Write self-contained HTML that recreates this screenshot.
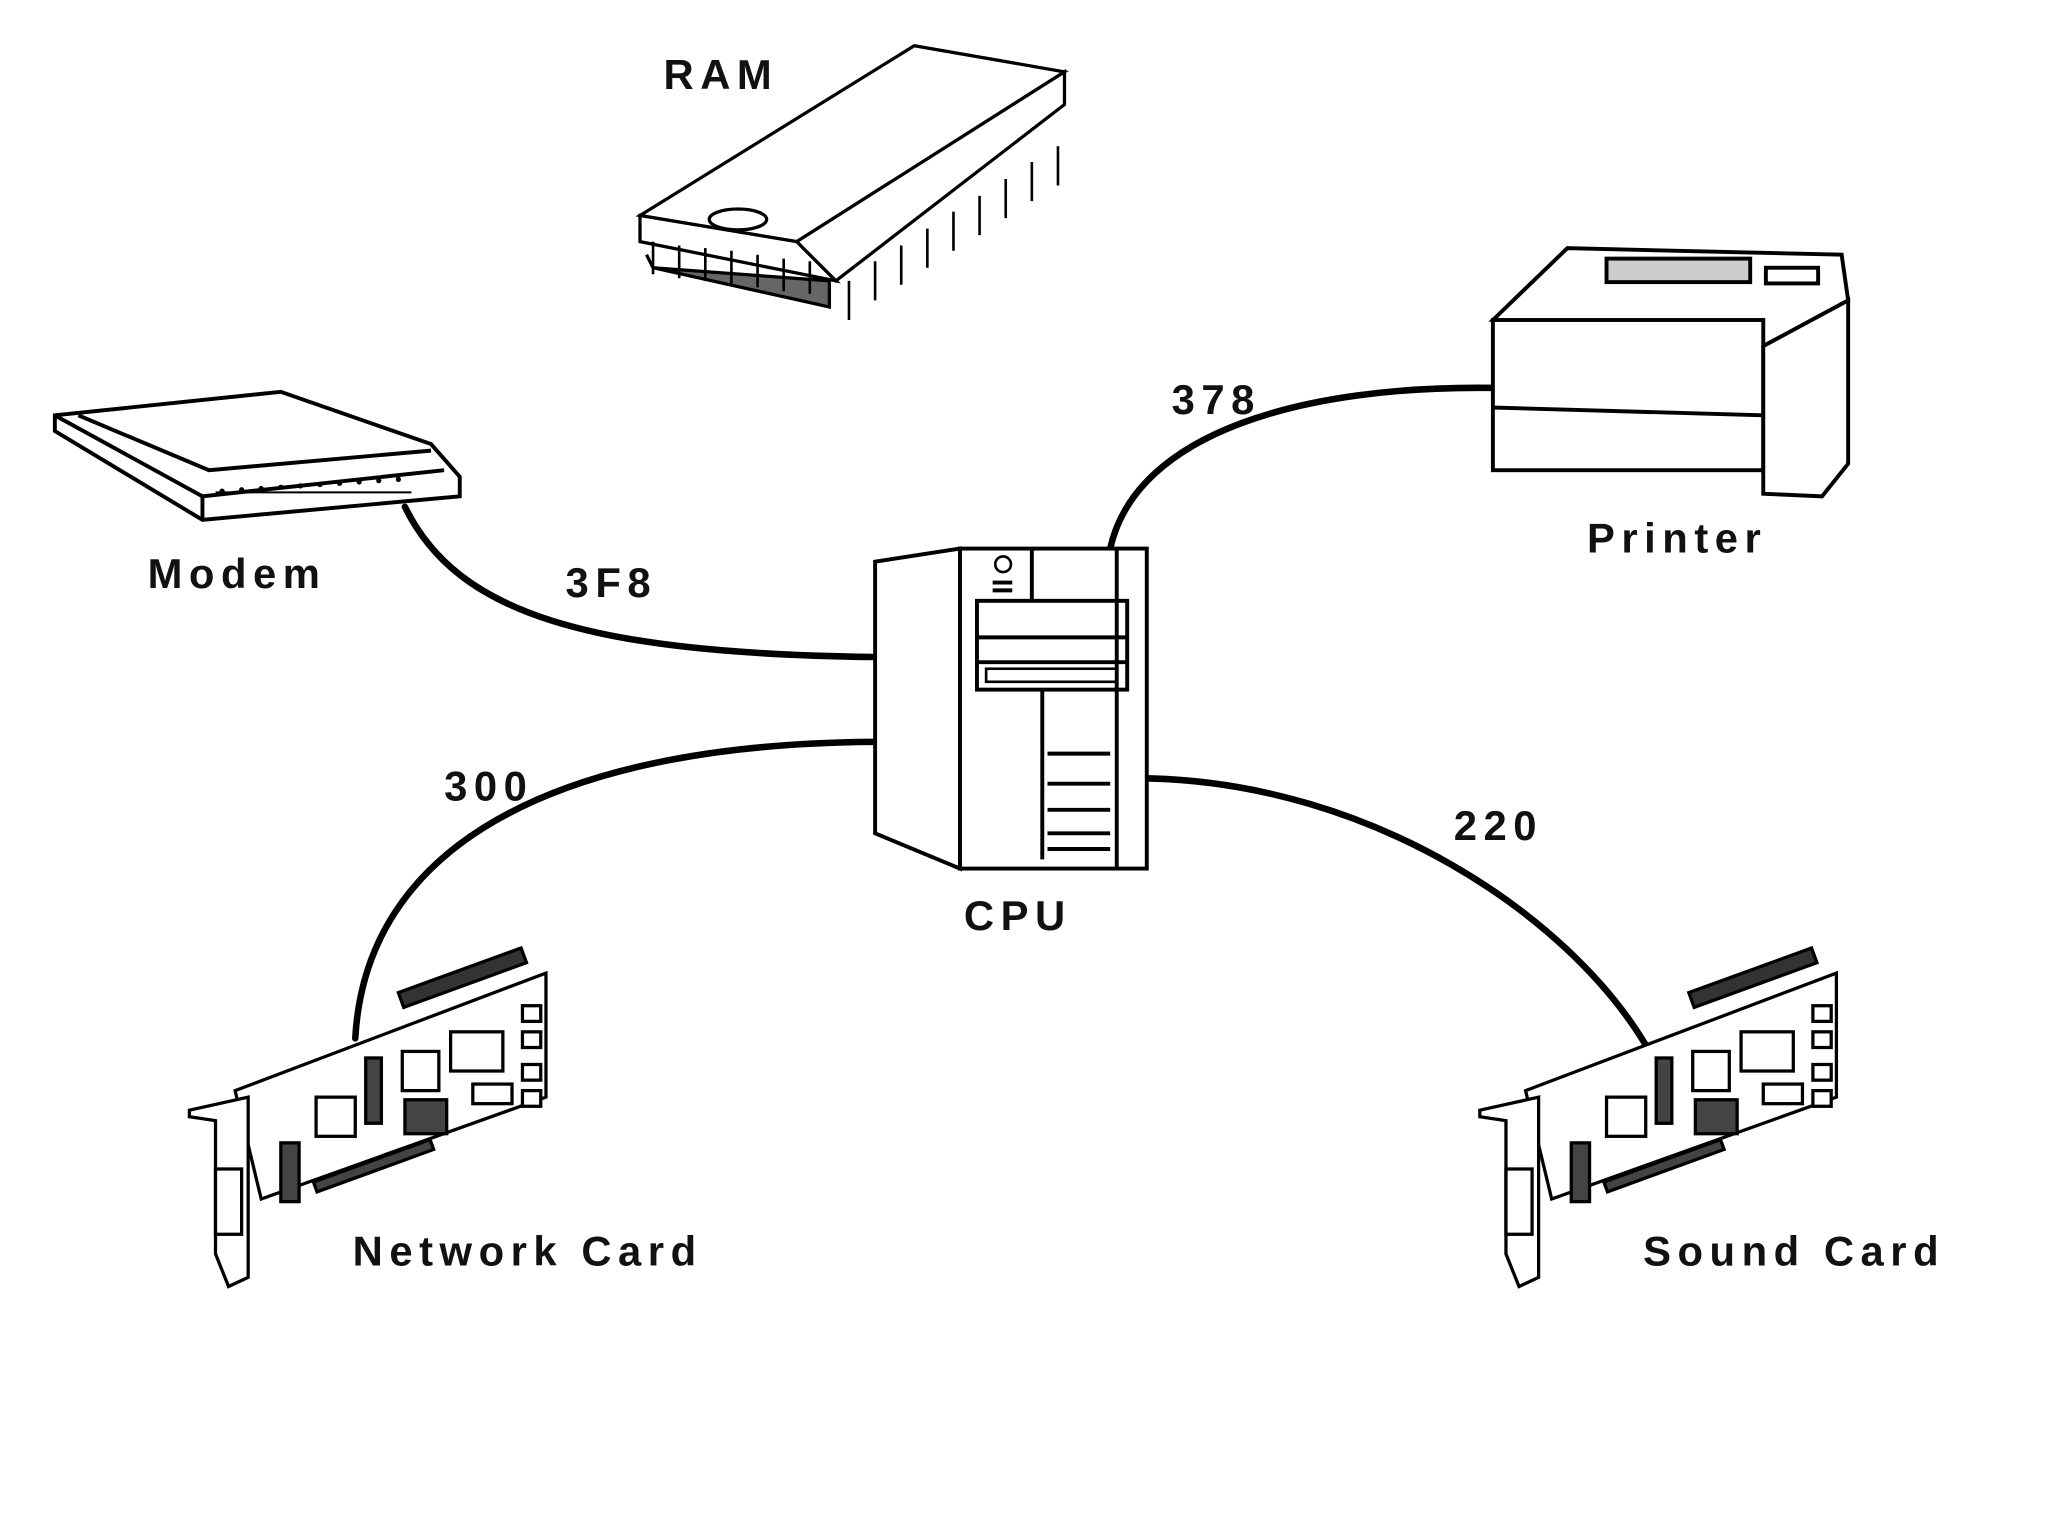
<!DOCTYPE html>
<html><head><meta charset="utf-8"><style>
html,body{margin:0;padding:0;background:#fff;width:2048px;height:1536px;overflow:hidden}
svg{display:block}
text{font-family:"Liberation Sans",sans-serif;font-size:32px;font-weight:bold;letter-spacing:5px;fill:#111}
</style></head><body>
<svg width="2048" height="1536" viewBox="0 0 1568 1176" xmlns="http://www.w3.org/2000/svg">
<rect width="1568" height="1176" fill="#fff"/>
<g fill="none" stroke="#000" stroke-width="5" stroke-linecap="round">
<path d="M310 388 C350 470 450 500 668 503"/>
<path d="M850 420 C870 330 1000 295 1143 297"/>
<path d="M272 795 C280 650 420 570 668 568"/>
<path d="M880 596 C1050 600 1200 700 1260 800"/>
</g>
<!-- RAM -->
<g stroke="#000" stroke-width="2.5" fill="#fff">
<polygon points="495,195 500,205 635,215 635,235 500,205" fill="#666"/>
<polygon points="490,165 700,35 815,55 610,185"/>
<polygon points="490,165 610,185 640,215 490,185" />
<polygon points="610,185 815,55 815,80 640,215"/>
<ellipse cx="565" cy="168" rx="22" ry="8"/>
<g stroke-width="2">
<path d="M500 185v25M520 188v25M540 190v25M560 192v25M580 195v25M600 198v25M620 200v25M650 215v30M670 200v30M690 188v30M710 175v30M730 162v30M750 150v30M770 137v30M790 124v30M810 112v30"/>
</g>
</g>
<text x="508" y="68">RAM</text>
<!-- Modem -->
<g stroke="#000" stroke-width="3" fill="#fff">
<polygon points="42,318 215,300 330,340 352,365 352,380 155,398 42,330"/>
<polyline points="42,318 155,380 340,360" fill="none"/>
<polyline points="60,318 160,360 330,345" fill="none"/>
<line x1="155" y1="380" x2="155" y2="398"/>
</g>
<g fill="none" stroke="#000" stroke-width="1.5"><path d="M165 377h150"/></g>
<g fill="#000"><circle cx="170" cy="376" r="2"/><circle cx="185" cy="375" r="2"/><circle cx="200" cy="374" r="2"/><circle cx="215" cy="373" r="2"/><circle cx="230" cy="372" r="2"/><circle cx="245" cy="371" r="2"/><circle cx="260" cy="370" r="2"/><circle cx="275" cy="369" r="2"/><circle cx="290" cy="368" r="2"/><circle cx="305" cy="367" r="2"/></g>
<text x="113" y="450">Modem</text>
<!-- Printer -->
<g stroke="#000" stroke-width="3" fill="#fff">
<polygon points="1143,245 1200,190 1410,195 1415,230 1350,265 1143,245"/>
<rect x="1143" y="245" width="207" height="115"/>
<polygon points="1350,265 1415,230 1415,355 1395,380 1350,378"/>
<line x1="1143" y1="312" x2="1350" y2="318"/>
<rect x="1230" y="198" width="110" height="18" fill="#ccc"/>
<rect x="1352" y="205" width="40" height="12"/>
</g>
<text x="1215" y="423">Printer</text>
<!-- CPU tower -->
<g stroke="#000" stroke-width="3" fill="#fff">
<polygon points="670,430 735,420 735,665 670,638"/>
<rect x="735" y="420" width="143" height="245"/>
<rect x="748" y="460" width="115" height="68"/>
<line x1="748" y1="488" x2="863" y2="488"/>
<line x1="748" y1="507" x2="863" y2="507"/>
<rect x="755" y="512" width="100" height="10" stroke-width="2"/>
<line x1="790" y1="420" x2="790" y2="460"/>
<line x1="855" y1="420" x2="855" y2="665"/>
<line x1="798" y1="528" x2="798" y2="658"/>
<circle cx="768" cy="432" r="6" stroke-width="2"/>
</g>
<g stroke="#000" stroke-width="3"><path d="M760 446h15M760 452h15M802 577h48M802 600h48M802 620h48M802 638h48M802 650h48"/></g>
<text x="738" y="712">CPU</text>
<!-- Cards -->
<g id="card" stroke="#000" stroke-width="2.5" fill="#fff">
<polygon points="180,835 418,745 418,840 200,918"/>
<polygon points="145,850 190,840 190,978 175,985 165,960 165,858 145,855"/>
<rect x="305" y="760" width="100" height="12" transform="rotate(-20 305 760)" fill="#333"/>
<rect x="345" y="790" width="40" height="30"/>
<rect x="308" y="805" width="28" height="30"/>
<rect x="310" y="842" width="32" height="26" fill="#444"/>
<rect x="242" y="840" width="30" height="30"/>
<rect x="280" y="810" width="12" height="50" fill="#444"/>
<rect x="362" y="830" width="30" height="15"/>
<rect x="240" y="905" width="95" height="8" transform="rotate(-20 240 905)" fill="#444"/>
<rect x="165" y="895" width="20" height="50"/>
<rect x="215" y="875" width="14" height="45" fill="#444"/>
<rect x="400" y="770" width="14" height="12"/><rect x="400" y="790" width="14" height="12"/><rect x="400" y="815" width="14" height="12"/><rect x="400" y="835" width="14" height="12"/>
</g>
<use href="#card" transform="translate(988,0)"/>
<text x="270" y="969">Network Card</text>
<text x="1258" y="969">Sound Card</text>
<text x="433" y="457">3F8</text>
<text x="897" y="317">378</text>
<text x="340" y="613">300</text>
<text x="1113" y="643">220</text>
</svg>
</body></html>
